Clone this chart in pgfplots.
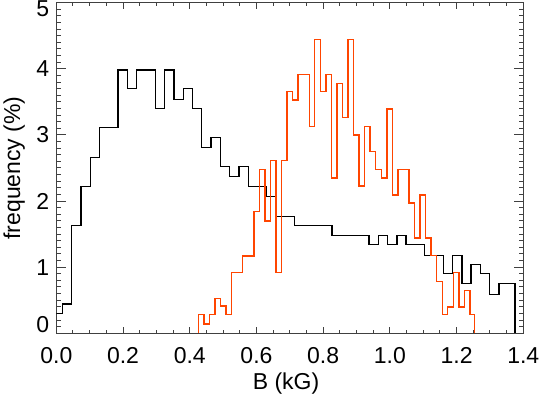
\documentclass[border=0pt]{standalone}
\usepackage{fontspec}
\setmainfont{Liberation Sans}
\usepackage{pgfplots}
\pgfplotsset{compat=1.18}
\definecolor{histred}{RGB}{255,69,0}

\begin{document}
\begin{tikzpicture}[font=\fontsize{11.5}{13.8}\selectfont]
\begin{axis}[
  scale only axis,
  width=233.5pt, height=165.3pt,
  xmin=0, xmax=1.4, ymin=0, ymax=5,
  xtick={0,0.2,...,1.4}, ytick={0,1,...,5},
  minor x tick num=3, minor y tick num=9,
  tick align=inside,
  axis line style={black!75, line width=0.5pt},
  every tick/.style={black!75, line width=0.5pt},
  xtick style={/pgfplots/major tick length=3.2pt, /pgfplots/minor tick length=1.8pt},
  ytick style={/pgfplots/major tick length=4.6pt, /pgfplots/minor tick length=2.1pt},
  /pgf/number format/assume math mode=true,
  xticklabel style={anchor=base, yshift=-15pt, /pgf/number format/fixed, /pgf/number format/fixed zerofill, /pgf/number format/precision=1},
  yticklabel={\ifnum\ticknum=5 \raisebox{-3.2pt}[\height][\depth]{\pgfmathprintnumber{\tick}}\else\ifnum\ticknum=0 \raisebox{4.5pt}[\height][\depth]{\pgfmathprintnumber{\tick}}\else\pgfmathprintnumber{\tick}\fi\fi},
  xlabel={B (kG)},
  ylabel={frequency (\%)},
  every axis x label/.style={at={(rel axis cs:0.492,-0.1694)}, anchor=base},
  every axis y label/.style={at={(rel axis cs:-0.0777,0.5)}, anchor=base, rotate=90},
  const plot mark left,
]
% black histogram
\addplot[black, line width=0.7pt, no marks] coordinates {
  (0,0.30) (0.0183,0.44) (0.0462,1.63) (0.0740,2.22) (0.1019,2.66)
  (0.1297,3.11) (0.1854,3.98) (0.2133,3.70) (0.2411,3.98) (0.2968,3.40)
  (0.3247,3.98) (0.3525,3.54) (0.3804,3.70) (0.4083,3.40) (0.4361,2.81)
  (0.4640,2.96) (0.4918,2.52) (0.5197,2.37) (0.5475,2.52) (0.5754,2.22)
  (0.6310,2.07) (0.6589,1.77) (0.7146,1.63) (0.8260,1.48) (0.9374,1.34)
  (0.9653,1.48) (0.9931,1.34) (1.0210,1.48) (1.0488,1.34) (1.1045,1.18)
  (1.1602,0.90) (1.1881,1.18) (1.2159,0.75) (1.2438,1.04) (1.2716,0.90)
  (1.2995,0.59) (1.3273,0.75) (1.3750,0)
};
% red histogram
\addplot[histred, line width=0.7pt, no marks] coordinates {
  (0.4261,0) (0.4261,0.28) (0.4428,0.14) (0.4594,0.28) (0.4760,0.53)
  (0.4926,0.41) (0.5092,0.28) (0.5258,0.92) (0.5590,1.17) (0.5922,1.84)
  (0.6088,2.48) (0.6254,1.70) (0.6420,2.61) (0.6587,0.92) (0.6753,2.61)
  (0.6919,3.66) (0.7085,3.53) (0.7251,3.91) (0.7583,3.13) (0.7749,4.44)
  (0.7915,3.66) (0.8081,3.91) (0.8247,2.35) (0.8413,3.78) (0.8579,3.26)
  (0.8746,4.44) (0.8912,3.00) (0.9078,2.23) (0.9244,3.13) (0.9410,2.75)
  (0.9576,2.48) (0.9742,2.35) (0.9908,3.39) (1.0074,2.09) (1.0240,2.48)
  (1.0572,1.97) (1.0738,1.44) (1.0904,2.09) (1.1070,1.44) (1.1236,1.18)
  (1.1403,0.78) (1.1569,0.28) (1.1735,0.40) (1.1901,0.92) (1.2067,0.40)
  (1.2233,0.65) (1.2399,0.28) (1.2530,0)
};
\coordinate (bbsw) at (rel axis cs:-0.1206,-0.1836);
\coordinate (bbne) at (rel axis cs:1.0358,1.0082);
\end{axis}
\pgfresetboundingbox
\useasboundingbox (bbsw) rectangle (bbne);
\end{tikzpicture}
\end{document}
